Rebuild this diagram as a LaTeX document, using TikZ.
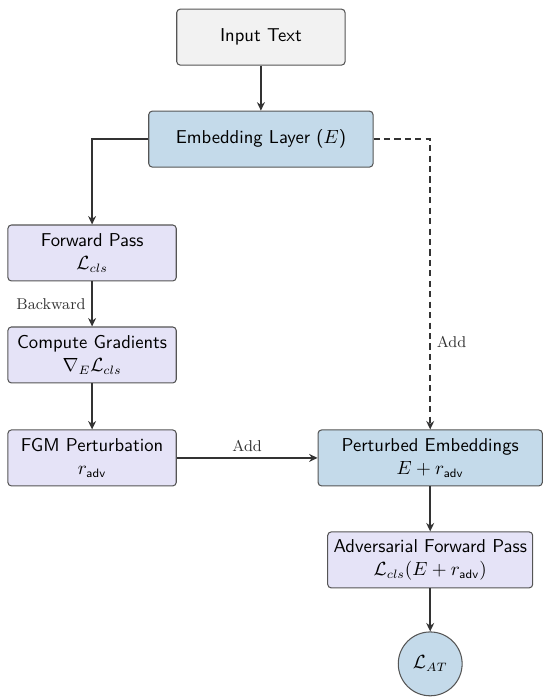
\documentclass[tikz,border=0pt]{standalone}
\usepackage{amsmath}
\usepackage{amssymb}
\usepackage{tikz}
\usetikzlibrary{arrows.meta, positioning}
\definecolor{inputfill}{HTML}{F2F2F2}
\definecolor{embfill}{HTML}{C4DAEA}
\definecolor{stepfill}{HTML}{E5E3F7}
\definecolor{edge}{HTML}{555555}
\definecolor{ink}{HTML}{333333}

\begin{document}
\begin{tikzpicture}[
    box/.style={draw=edge, semithick, rounded corners=2pt, minimum height=11.3mm, minimum width=34mm, align=center, font=\sffamily\fontsize{10.7}{13.5}\selectfont},
    inbox/.style={box, fill=inputfill},
    embbox/.style={box, fill=embfill, minimum width=45.3mm},
    stepbox/.style={box, fill=stepfill},
    lossnode/.style={circle, draw=edge, semithick, fill=embfill, minimum size=12.9mm, inner sep=0pt, font=\fontsize{10.7}{13.5}\selectfont},
    arr/.style={-{Stealth[length=1.7mm, width=1.6mm]}, line width=0.9pt, ink},
    lbl/.style={font=\small, text=ink}
]
\useasboundingbox (0,0) rectangle (11.11,-14.14);

\node[inbox] (input) at (5.27,-0.75) {Input Text};
\node[embbox] (embed) at (5.27,-2.81) {Embedding Layer ($E$)};
\node[stepbox] (fwd) at (1.86,-5.11) {Forward Pass\\$\mathcal{L}_{cls}$};
\node[stepbox] (grad) at (1.86,-7.17) {Compute Gradients\\$\nabla_E\mathcal{L}_{cls}$};
\node[stepbox] (fgm) at (1.86,-9.25) {FGM Perturbation\\$r_{\mathsf{adv}}$};
\node[embbox] (pert) at (8.69,-9.25) {Perturbed Embeddings\\$E + r_{\mathsf{adv}}$};
\node[stepbox, minimum width=40.8mm] (adv) at (8.69,-11.31) {Adversarial Forward Pass\\$\mathcal{L}_{cls}(E + r_{\mathsf{adv}})$};
\node[lossnode] (lat) at (8.69,-13.41) {$\mathcal{L}_{AT}$};

\draw[arr] (input) -- (embed);
\draw[arr] (embed.west) -| (fwd.north);
\draw[arr] (fwd) -- node[left, lbl] {Backward} (grad);
\draw[arr] (grad) -- (fgm);
\draw[arr] (fgm) -- node[above, lbl] {Add} (pert);
\draw[arr, dash pattern=on 3.5pt off 2.5pt] (embed.east) -| node[pos=0.85, right, lbl] {Add} (pert.north);
\draw[arr] (pert) -- (adv);
\draw[arr] (adv) -- (lat);
\end{tikzpicture}
\end{document}
